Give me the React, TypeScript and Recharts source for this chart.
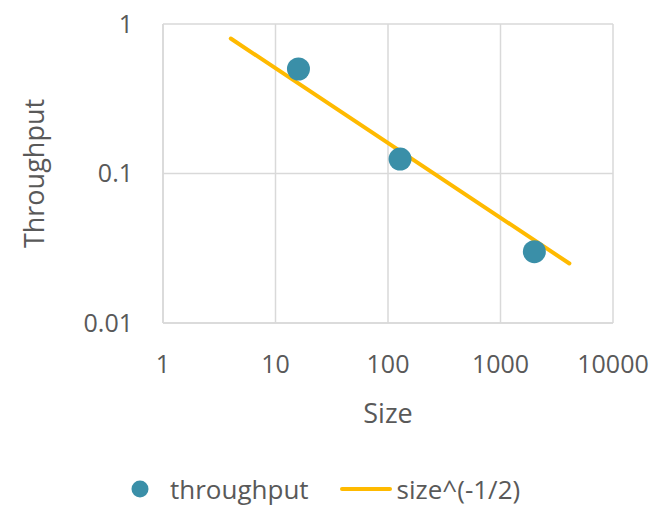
import React from "react";
import {
  ScatterChart,
  Scatter,
  XAxis,
  YAxis,
  CartesianGrid,
  Legend,
} from "recharts";

const sizes = [16, 128, 2000];
const throughput = [0.5, 0.125, 0.03];

const fitSizes = [4, 4096];
const fitValues = [0.8, 0.025];

const xTicks = [1, 10, 100, 1000, 10000];
const yTicks = [0.01, 0.1, 1];

const pointData = sizes.map((s, i) => ({ size: s, value: throughput[i] }));
const fitData = fitSizes.map((s, i) => ({ size: s, value: fitValues[i] }));

const FONT = "'Open Sans', sans-serif";
const TEXT = "#595959";
const GRID = "#d9d9d9";
const DOT = "#3a8fa8";
const LINE = "#ffba00";

const Dot = (props: any) => (
  <circle cx={props.cx} cy={props.cy} r={11.5} fill={DOT} />
);

const NoShape = () => <g />;

const LegendContent = () => (
  <div
    style={{
      display: "flex",
      alignItems: "center",
      fontFamily: FONT,
      fontSize: 26,
      lineHeight: "26px",
      height: 26,
      color: TEXT,
      paddingLeft: 130,
    }}
  >
    <svg width={20} height={20} style={{ marginRight: 20 }}>
      <circle cx={10} cy={10} r={8.5} fill={DOT} />
    </svg>
    <span style={{ marginRight: 31 }}>throughput</span>
    <svg width={52} height={8} style={{ marginRight: 5 }}>
      <line x1={2} y1={4} x2={50} y2={4} stroke={LINE} strokeWidth={4} strokeLinecap="round" />
    </svg>
    <span>size^(-1/2)</span>
  </div>
);

export default function App() {
  return (
    <div style={{ position: "absolute", left: 0, top: 0, background: "#fff" }}>
      <ScatterChart
        width={657}
        height={507}
        margin={{ top: 24, right: 44, left: 0, bottom: 0 }}
      >
        <CartesianGrid stroke={GRID} strokeWidth={1.5} />
        <XAxis
          type="number"
          dataKey="size"
          scale="log"
          domain={[1, 10000]}
          ticks={xTicks}
          allowDataOverflow
          axisLine={{ stroke: GRID, strokeWidth: 1.5 }}
          tickLine={false}
          tick={{ fill: TEXT, fontSize: 25, fontFamily: FONT, dy: 24 }}
          height={158}
          label={{
            content: (p: any) => {
              const vb = p.viewBox;
              return (
                <text
                  x={vb.x + vb.width / 2}
                  y={412}
                  textAnchor="middle"
                  dominantBaseline="central"
                  fill={TEXT}
                  fontSize={27}
                  fontFamily={FONT}
                >
                  Size
                </text>
              );
            },
          }}
        />
        <YAxis
          type="number"
          dataKey="value"
          scale="log"
          domain={[0.01, 1]}
          ticks={yTicks}
          allowDataOverflow
          width={163}
          axisLine={{ stroke: GRID, strokeWidth: 1.5 }}
          tickLine={false}
          tickFormatter={(v: number) => String(v)}
          tick={{ fill: TEXT, fontSize: 25, fontFamily: FONT, dx: -22 }}
          label={{
            content: (p: any) => {
              const vb = p.viewBox;
              const cy = vb.y + vb.height / 2;
              return (
                <text
                  x={33}
                  y={cy}
                  transform={`rotate(-90 33 ${cy})`}
                  textAnchor="middle"
                  dominantBaseline="central"
                  fill={TEXT}
                  fontSize={27}
                  fontFamily={FONT}
                >
                  Throughput
                </text>
              );
            },
          }}
        />
        <Legend
          content={LegendContent}
          wrapperStyle={{ position: "absolute", top: 476, left: 0, width: 657 }}
        />
        <Scatter
          name="size^(-1/2)"
          data={fitData}
          line={{ stroke: LINE, strokeWidth: 4, strokeLinecap: "round" }}
          lineType="joint"
          shape={NoShape}
          isAnimationActive={false}
        />
        <Scatter
          name="throughput"
          data={pointData}
          fill={DOT}
          shape={Dot}
          isAnimationActive={false}
        />
      </ScatterChart>
    </div>
  );
}
